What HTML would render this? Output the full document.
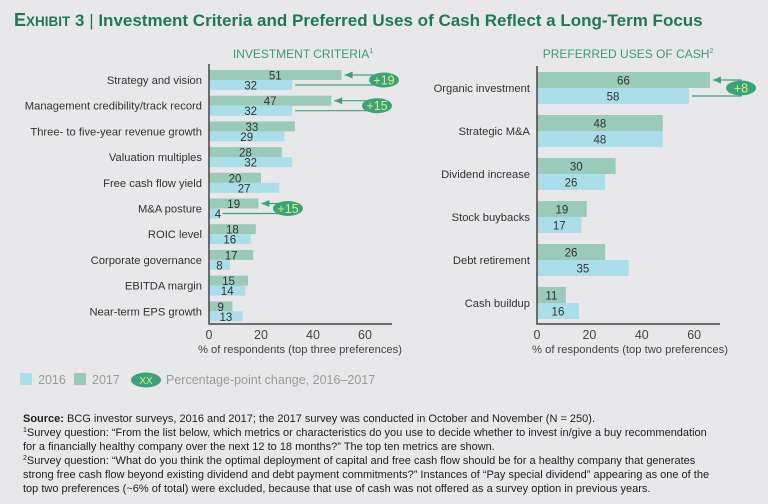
<!DOCTYPE html>
<html><head><meta charset="utf-8"><style>
body{margin:0;background:#e8e8ea;width:768px;height:504px;overflow:hidden;font-family:"Liberation Sans",sans-serif}
svg{display:block}
</style></head><body>
<svg id="chart" width="768" height="504" viewBox="0 0 768 504" xmlns="http://www.w3.org/2000/svg">
<rect width="768" height="504" fill="#e8e8ea"/>
<text x="14" y="26" font-size="17" font-weight="bold" fill="#1d7a55"><tspan font-size="18">E</tspan><tspan font-size="13.5">XHIBIT</tspan> 3 <tspan font-weight="normal">|</tspan> Investment Criteria and Preferred Uses of Cash Reflect a Long-Term Focus</text>
<text x="303" y="58" font-size="12" fill="#3a9a78" text-anchor="middle">INVESTMENT CRITERIA<tspan font-size="7" dy="-5">1</tspan></text>
<text x="628" y="58" font-size="12" fill="#3a9a78" text-anchor="middle">PREFERRED USES OF CASH<tspan font-size="7" dy="-5">2</tspan></text>
<g id="left"></g><g id="right"></g>
<g>
<rect x="20" y="373" width="12" height="12" fill="#aadeea"/>
<text x="38" y="384" font-size="12.5" fill="#999">2016</text>
<rect x="74" y="373" width="12" height="12" fill="#9acbb8"/>
<text x="92" y="384" font-size="12.5" fill="#999">2017</text>
<ellipse cx="146" cy="380" rx="15" ry="7.5" fill="#3aa37a"/>
<text x="146" y="384" font-size="10" fill="#d9f07a" text-anchor="middle">XX</text>
<text x="166" y="384" font-size="12.5" fill="#999">Percentage-point change, 2016–2017</text>
</g>
<g font-size="11" fill="#222">
<text x="23" y="422"><tspan font-weight="bold">Source:</tspan> BCG investor surveys, 2016 and 2017; the 2017 survey was conducted in October and November (N = 250).</text>
<text x="23" y="436"><tspan font-size="7" dy="-4">1</tspan><tspan dy="4">Survey question: “From the list below, which metrics or characteristics do you use to decide whether to invest in/give a buy recommendation</tspan></text>
<text x="23" y="450">for a financially healthy company over the next 12 to 18 months?” The top ten metrics are shown.</text>
<text x="23" y="464"><tspan font-size="7" dy="-4">2</tspan><tspan dy="4">Survey question: “What do you think the optimal deployment of capital and free cash flow should be for a healthy company that generates</tspan></text>
<text x="23" y="478">strong free cash flow beyond existing dividend and debt payment commitments?” Instances of “Pay special dividend” appearing as one of the</text>
<text x="23" y="492">top two preferences (~6% of total) were excluded, because that use of cash was not offered as a survey option in previous years.</text>
</g>
</svg>
<script>
const leftCats=["Strategy and vision","Management credibility/track record","Three- to five-year revenue growth","Valuation multiples","Free cash flow yield","M&A posture","ROIC level","Corporate governance","EBITDA margin","Near-term EPS growth"];
const left2017=[51,47,33,28,20,19,18,17,15,9];
const left2016=[32,32,29,32,27,4,16,8,14,13];
const leftBadges=[[0,"+19",384],[1,"+15",377],[5,"+15",288]];
const rightCats=["Organic investment","Strategic M&A","Dividend increase","Stock buybacks","Debt retirement","Cash buildup"];
const right2017=[66,48,30,19,26,11];
const right2016=[58,48,26,17,35,16];
const rightBadges=[[0,"+8",741]];
const ticks=[0,20,40,60];
const NS="http://www.w3.org/2000/svg";
function mk(p,tag,a,txt){const e=document.createElementNS(NS,tag);for(const k in a)e.setAttribute(k,a[k]);if(txt!==undefined)e.textContent=txt;p.appendChild(e);return e;}
function draw(gid,cats,v17,v16,badges,o){
 const g=document.getElementById(gid);
 const x=v=>o.x0+v*o.k;
 const yc=i=>o.y0+i*o.pitch;
 cats.forEach((c,i)=>{
  const y=yc(i);
  const lab=mk(g,'text',{x:o.x0-7,y:y+4,'font-size':11.2,fill:'#333','text-anchor':'end'},c);
  
  
  const b1=mk(g,'rect',{x:o.x0,y:y-o.h17,width:x(v17[i])-o.x0,height:o.h17,fill:'#9acbb8'});
  
  
  const b2=mk(g,'rect',{x:o.x0,y:y,width:x(v16[i])-o.x0,height:o.h16,fill:'#aadeea'});
  
  
  const t1=mk(g,'text',{x:Math.max((o.x0+x(v17[i]))/2,o.x0+9),y:y-o.h17/2+4.5,'font-size':11.5,fill:'#333','text-anchor':'middle'},v17[i]);
  
  
  const t2=mk(g,'text',{x:Math.max((o.x0+x(v16[i]))/2,o.x0+9),y:y+o.h16/2+4.5,'font-size':11.5,fill:'#333','text-anchor':'middle'},v16[i]);
  
  
 });
 badges.forEach(([i,txt,cx])=>{
  const y=yc(i),ya=y-o.h17/2,yb=y+o.h16/2;
  const a=mk(g,'path',{d:`M${x(v17[i])+3},${ya}L${cx},${ya}L${cx},${yb}L${x(v16[i])+3},${yb}`,fill:'none',stroke:'#3aa37a','stroke-width':1.2});
  
  
  const ah=mk(g,'path',{d:`M${x(v17[i])+3},${ya}l8,-3.5v7z`,fill:'#3aa37a'});
  
  
  const el=mk(g,'ellipse',{cx:cx,cy:y,rx:15,ry:7.5,fill:'#3aa37a'});
  
  
  const et=mk(g,'text',{x:cx,y:y+4.5,'font-size':12.5,fill:'#d9f07a','text-anchor':'middle'},txt);
  
  
 });
 const ax=mk(g,'path',{d:`M${o.x0},${o.top}V${o.bot}H${o.xend}`,fill:'none',stroke:'#444','stroke-width':1.5});
 
 
 ticks.forEach(t=>{
  const tl=mk(g,'text',{x:x(t),y:o.bot+15,'font-size':12.5,fill:'#444','text-anchor':'middle'},t);
  
  
 });
 const at=mk(g,'text',{x:o.titleX,y:o.bot+29,'font-size':11.2,fill:'#444','text-anchor':'middle'},o.title);
 
 
}
draw('left',leftCats,left2017,left2016,leftBadges,{x0:209,k:2.6,y0:80,pitch:25.7,h17:10,h16:10,top:64,bot:324,xend:392,titleX:300,title:'% of respondents (top three preferences)'});
draw('right',rightCats,right2017,right2016,rightBadges,{x0:537,k:2.62,y0:88,pitch:43,h17:16,h16:16,top:66,bot:324,xend:720,titleX:630,title:'% of respondents (top two preferences)'});
</script>
</body></html>
